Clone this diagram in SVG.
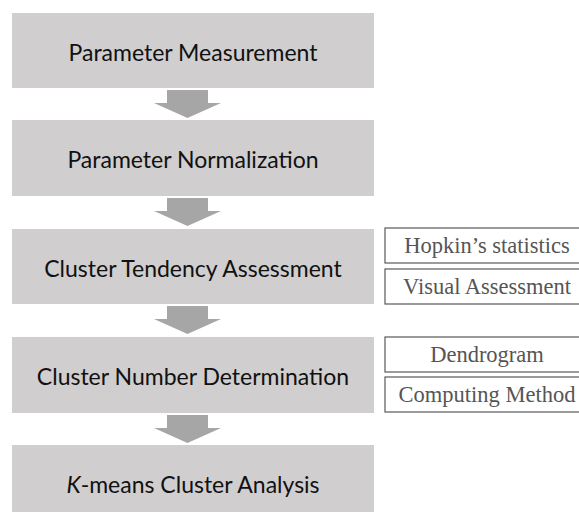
<svg xmlns="http://www.w3.org/2000/svg" width="579" height="512" viewBox="0 0 579 512">
<defs>
<style>
.box{fill:#d0cece;}
.t{font-family:Lato,"Open Sans",sans-serif;font-size:23px;fill:#111;text-anchor:middle;}
.arr{fill:#a6a6a6;}
.sb{fill:#fff;stroke:#595959;stroke-width:1.2;}
.st{font-family:"Liberation Serif","Times New Roman",serif;font-size:22.5px;fill:#555;text-anchor:middle;}
</style>
<path id="ar" d="M-20.5,0 h41 v13 h13 l-33.5,15 l-33.5,-15 h13 z"/>
</defs>
<rect width="579" height="512" fill="#fff"/>
<g id="n1"><rect class="box" x="12" y="13" width="362" height="75"/><text class="t" x="193" y="61">Parameter Measurement</text></g>
<g id="n2"><rect class="box" x="12" y="120" width="362" height="76"/><text class="t" x="193" y="168">Parameter Normalization</text></g>
<g id="n3"><rect class="box" x="12" y="229" width="362" height="75"/><text class="t" x="193" y="277">Cluster Tendency Assessment</text></g>
<g id="n4"><rect class="box" x="12" y="337" width="362" height="76"/><text class="t" x="193" y="385">Cluster Number Determination</text></g>
<g id="n5"><rect class="box" x="12" y="445" width="362" height="67"/><text class="t" x="193" y="493"><tspan font-style="italic">K</tspan>-means Cluster Analysis</text></g>
<g id="s1"><rect class="sb" x="385" y="228" width="200" height="35"/><text class="st" x="487" y="253">Hopkin’s statistics</text></g>
<g id="s2"><rect class="sb" x="385" y="269" width="200" height="35"/><text class="st" x="487" y="294">Visual Assessment</text></g>
<g id="s3"><rect class="sb" x="385" y="337" width="200" height="35"/><text class="st" x="487" y="362">Dendrogram</text></g>
<g id="s4"><rect class="sb" x="385" y="377" width="200" height="35"/><text class="st" x="487" y="402">Computing Method</text></g>
<g id="connectors" class="arr">
<use href="#ar" x="187.5" y="90"/>
<use href="#ar" x="187.5" y="198"/>
<use href="#ar" x="187.5" y="306"/>
<use href="#ar" x="187.5" y="415"/>
</g>
</svg>
